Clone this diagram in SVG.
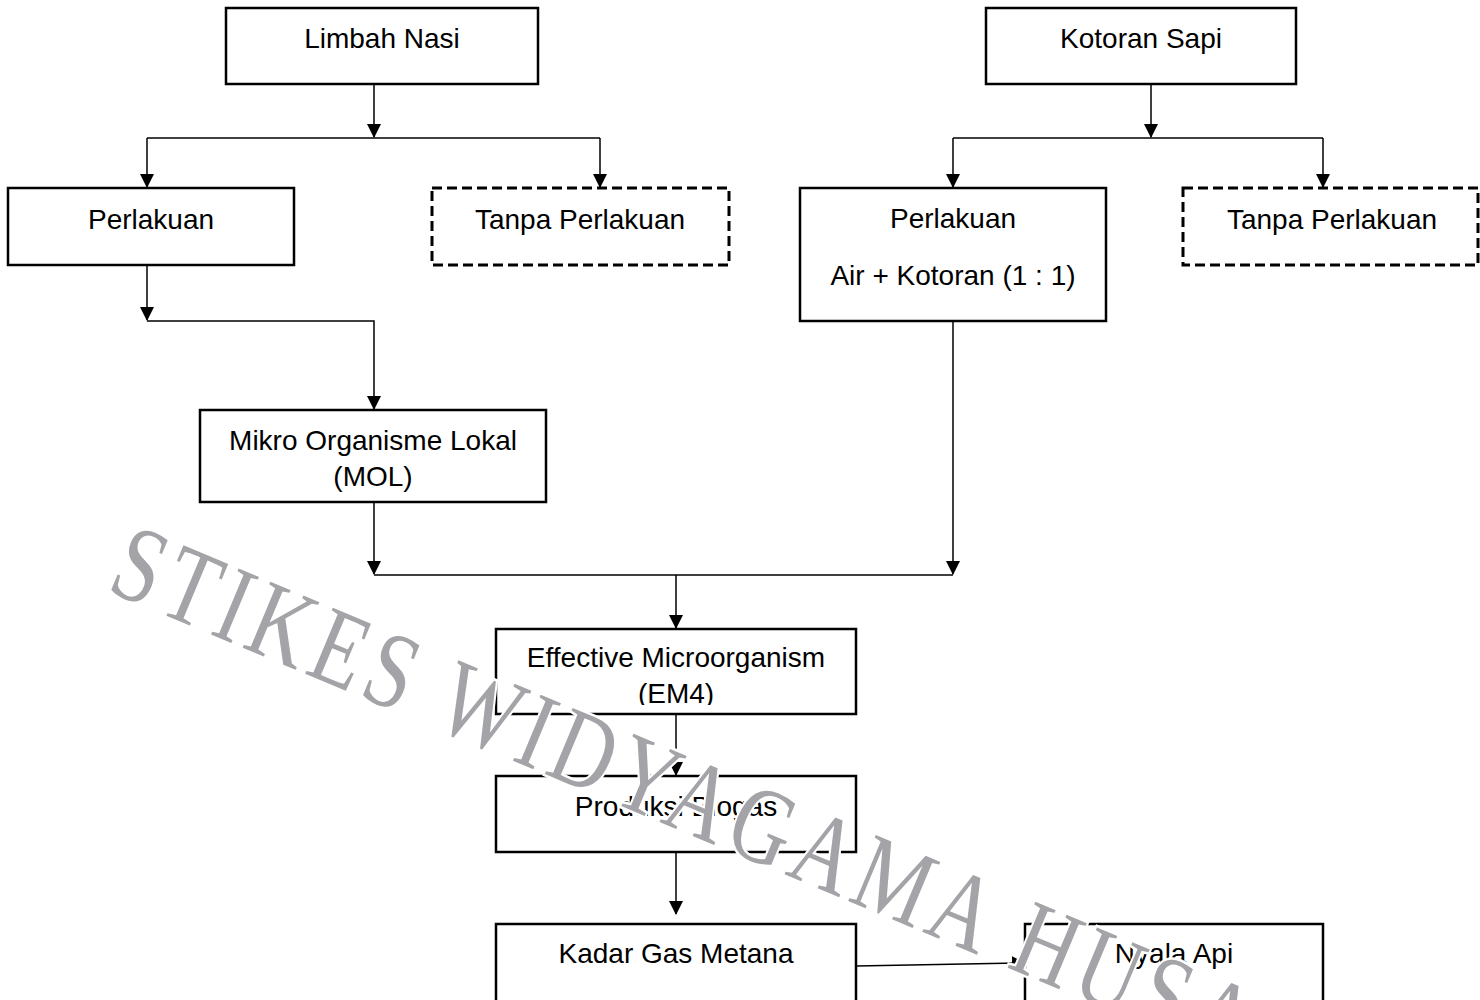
<svg xmlns="http://www.w3.org/2000/svg" width="1480" height="1000" viewBox="0 0 1480 1000">
<style>
.box{fill:#fff;stroke:#000;stroke-width:2.5}
.dash{fill:#fff;stroke:#000;stroke-width:3;stroke-dasharray:10 5}
.lbl{font-family:"Liberation Sans",Arial,sans-serif;font-size:28px;fill:#000;text-anchor:middle}
.c{fill:none;stroke:#000;stroke-width:1.5}
.wm{font-family:"Liberation Serif","Times New Roman",serif;font-size:84px;fill:#a3a3a8;stroke:#fff;stroke-width:4;paint-order:stroke;letter-spacing:7px}
</style>
<defs>
<marker id="ah" markerUnits="userSpaceOnUse" markerWidth="14" markerHeight="16" refX="13" refY="7" orient="auto">
<path d="M0,0 L14,7 L0,14 Z" fill="#000"/>
</marker>
<clipPath id="em4clip"><rect x="496" y="629" width="360" height="76"/></clipPath>
</defs>
<rect width="1480" height="1000" fill="#fff"/>
<g id="connectors">
<path class="c" d="M374,84 V137" marker-end="url(#ah)"/>
<path class="c" d="M147,138 H600"/>
<path class="c" d="M147,138 V187" marker-end="url(#ah)"/>
<path class="c" d="M600,138 V187" marker-end="url(#ah)"/>
<path class="c" d="M1151,84 V137" marker-end="url(#ah)"/>
<path class="c" d="M953,138 H1323"/>
<path class="c" d="M953,138 V187" marker-end="url(#ah)"/>
<path class="c" d="M1323,138 V187" marker-end="url(#ah)"/>
<path class="c" d="M147,265 V320" marker-end="url(#ah)"/>
<path class="c" d="M147,321 H374 V409" marker-end="url(#ah)"/>
<path class="c" d="M374,502 V574" marker-end="url(#ah)"/>
<path class="c" d="M953,321 V574" marker-end="url(#ah)"/>
<path class="c" d="M374,575 H953"/>
<path class="c" d="M676,575 V628" marker-end="url(#ah)"/>
<path class="c" d="M676,714 V775" marker-end="url(#ah)"/>
<path class="c" d="M676,852 V914" marker-end="url(#ah)"/>
<path class="c" d="M856,966 L1025,963" marker-end="url(#ah)"/>
</g>
<g id="limbah-nasi"><rect class="box" x="226" y="8" width="312" height="76"/><text class="lbl" x="382" y="48">Limbah Nasi</text></g>
<g id="kotoran-sapi"><rect class="box" x="986" y="8" width="310" height="76"/><text class="lbl" x="1141" y="48">Kotoran Sapi</text></g>
<g id="perlakuan-left"><rect class="box" x="8" y="188" width="286" height="77"/><text class="lbl" x="151" y="229">Perlakuan</text></g>
<g id="tanpa-left"><rect class="dash" x="432" y="188" width="297" height="77"/><text class="lbl" x="580" y="229">Tanpa Perlakuan</text></g>
<g id="perlakuan-right"><rect class="box" x="800" y="188" width="306" height="133"/><text class="lbl" x="953" y="228">Perlakuan</text><text class="lbl" x="953" y="285">Air + Kotoran (1 : 1)</text></g>
<g id="tanpa-right"><rect class="dash" x="1183" y="188" width="295" height="77"/><text class="lbl" x="1332" y="229">Tanpa Perlakuan</text></g>
<g id="mol"><rect class="box" x="200" y="410" width="346" height="92"/><text class="lbl" x="373" y="450">Mikro Organisme Lokal</text><text class="lbl" x="373" y="486">(MOL)</text></g>
<g id="em4"><rect class="box" x="496" y="629" width="360" height="85"/><text class="lbl" x="676" y="667">Effective Microorganism</text><text class="lbl" x="676" y="703" clip-path="url(#em4clip)">(EM4)</text></g>
<g id="produksi-biogas"><rect class="box" x="496" y="776" width="360" height="76"/><text class="lbl" x="676" y="816">Produksi Biogas</text></g>
<g id="kadar-gas-metana"><rect class="box" x="496" y="924" width="360" height="100"/><text class="lbl" x="676" y="963">Kadar Gas Metana</text></g>
<g id="nyala-api"><rect class="box" x="1025" y="924" width="298" height="100"/><text class="lbl" x="1174" y="963">Nyala Api</text></g>
<g transform="translate(105 590) rotate(22.7) scale(1 1.3)"><text class="wm" x="0" y="0">STIKES WIDYAGAMA HUSADA</text></g>
</svg>
